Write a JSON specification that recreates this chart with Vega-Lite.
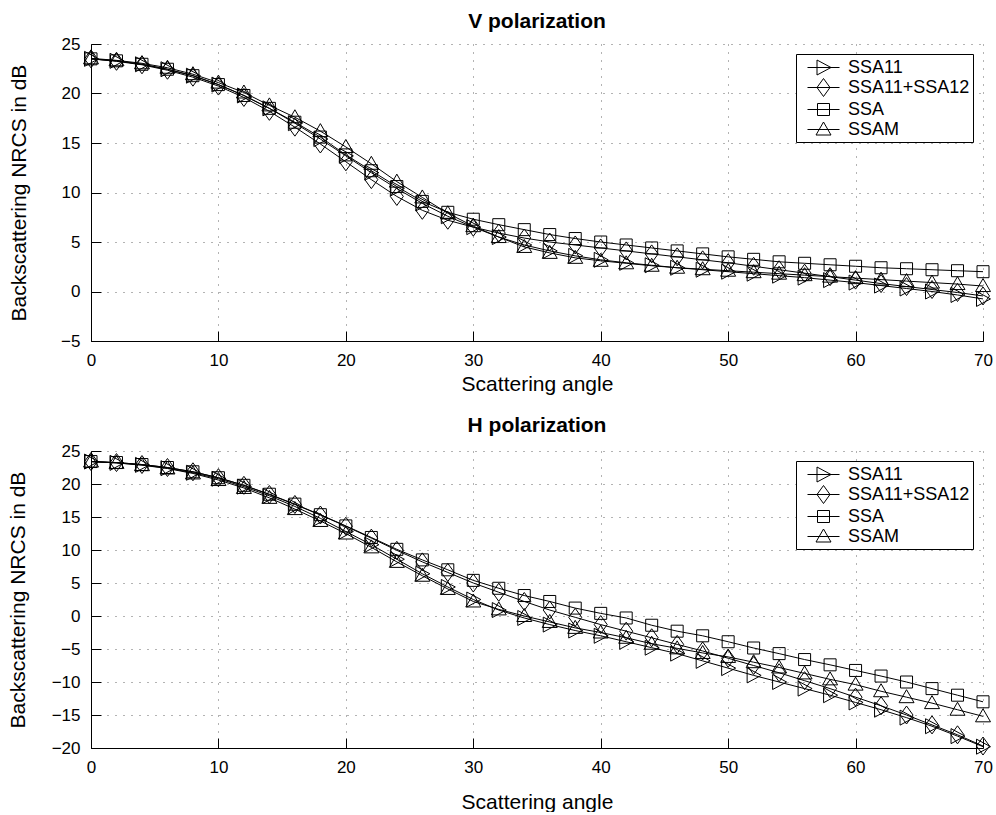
{
 "$schema": "https://vega.github.io/schema/vega-lite/v6.json",
 "autosize": {"type": "pad"},
 "padding": {"left": 7, "top": 11, "right": 3, "bottom": 0},
 "background": "white",
 "config": {
  "font": "Liberation Sans",
  "view": {"stroke": null},
  "axis": {"domainColor": "black", "domainWidth": 1, "tickColor": "black", "tickSize": -10, "labelColor": "black", "labelFontSize": 17, "titleFontSize": 21, "titleFontWeight": "normal", "titleColor": "black", "grid": true, "gridColor": "black", "gridDash": [1, 7], "gridOpacity": 0.6, "labelFont": "Liberation Sans", "titleFont": "Liberation Sans", "labelFlush": false},
  "axisX": {"labelPadding": 21, "titlePadding": 5},
  "axisY": {"labelPadding": 21},
  "legend": {"strokeColor": "black", "fillColor": "white", "padding": 3, "cornerRadius": 0, "labelFontSize": 18, "labelColor": "black", "labelFont": "Liberation Sans", "symbolStrokeColor": "black", "symbolStrokeWidth": 1, "symbolOpacity": 1, "symbolFillColor": "transparent", "symbolSize": 400, "rowPadding": -1, "labelOffset": 14, "symbolOffset": 14, "offset": 10},
  "title": {"fontSize": 21, "fontWeight": "bold", "color": "black", "offset": 3, "anchor": "middle", "font": "Liberation Sans"}
 },
 "datasets": {
  "V": [
   {"a":0,"m":"SSA11","v":23.5},{"a":0,"m":"SSA11+SSA12","v":23.5},{"a":0,"m":"SSA","v":23.5},{"a":0,"m":"SSAM","v":23.55},
   {"a":2,"m":"SSA11","v":23.3},{"a":2,"m":"SSA11+SSA12","v":23.25},{"a":2,"m":"SSA","v":23.3},{"a":2,"m":"SSAM","v":23.35},
   {"a":4,"m":"SSA11","v":22.95},{"a":4,"m":"SSA11+SSA12","v":22.9},{"a":4,"m":"SSA","v":22.95},{"a":4,"m":"SSAM","v":23.05},
   {"a":6,"m":"SSA11","v":22.45},{"a":6,"m":"SSA11+SSA12","v":22.35},{"a":6,"m":"SSA","v":22.45},{"a":6,"m":"SSAM","v":22.6},
   {"a":8,"m":"SSA11","v":21.8},{"a":8,"m":"SSA11+SSA12","v":21.65},{"a":8,"m":"SSA","v":21.8},{"a":8,"m":"SSAM","v":21.95},
   {"a":10,"m":"SSA11","v":20.9},{"a":10,"m":"SSA11+SSA12","v":20.75},{"a":10,"m":"SSA","v":20.9},{"a":10,"m":"SSAM","v":21.1},
   {"a":12,"m":"SSA11","v":19.8},{"a":12,"m":"SSA11+SSA12","v":19.6},{"a":12,"m":"SSA","v":19.8},{"a":12,"m":"SSAM","v":20.1},
   {"a":14,"m":"SSA11","v":18.5},{"a":14,"m":"SSA11+SSA12","v":18.2},{"a":14,"m":"SSA","v":18.5},{"a":14,"m":"SSAM","v":18.8},
   {"a":16,"m":"SSA11","v":17.0},{"a":16,"m":"SSA11+SSA12","v":16.6},{"a":16,"m":"SSA","v":17.1},{"a":16,"m":"SSAM","v":17.6},
   {"a":18,"m":"SSA11","v":15.4},{"a":18,"m":"SSA11+SSA12","v":14.9},{"a":18,"m":"SSA","v":15.6},{"a":18,"m":"SSAM","v":16.2},
   {"a":20,"m":"SSA11","v":13.7},{"a":20,"m":"SSA11+SSA12","v":13.1},{"a":20,"m":"SSA","v":13.8},{"a":20,"m":"SSAM","v":14.6},
   {"a":22,"m":"SSA11","v":12.0},{"a":22,"m":"SSA11+SSA12","v":11.3},{"a":22,"m":"SSA","v":12.2},{"a":22,"m":"SSAM","v":12.9},
   {"a":24,"m":"SSA11","v":10.4},{"a":24,"m":"SSA11+SSA12","v":9.6},{"a":24,"m":"SSA","v":10.6},{"a":24,"m":"SSAM","v":11.1},
   {"a":26,"m":"SSA11","v":8.9},{"a":26,"m":"SSA11+SSA12","v":8.2},{"a":26,"m":"SSA","v":9.1},{"a":26,"m":"SSAM","v":9.5},
   {"a":28,"m":"SSA11","v":7.6},{"a":28,"m":"SSA11+SSA12","v":7.2},{"a":28,"m":"SSA","v":8.0},{"a":28,"m":"SSAM","v":7.9},
   {"a":30,"m":"SSA11","v":6.5},{"a":30,"m":"SSA11+SSA12","v":6.5},{"a":30,"m":"SSA","v":7.3},{"a":30,"m":"SSAM","v":6.6},
   {"a":32,"m":"SSA11","v":5.5},{"a":32,"m":"SSA11+SSA12","v":5.9},{"a":32,"m":"SSA","v":6.75},{"a":32,"m":"SSAM","v":5.5},
   {"a":34,"m":"SSA11","v":4.7},{"a":34,"m":"SSA11+SSA12","v":5.4},{"a":34,"m":"SSA","v":6.25},{"a":34,"m":"SSAM","v":4.5},
   {"a":36,"m":"SSA11","v":4.1},{"a":36,"m":"SSA11+SSA12","v":5.0},{"a":36,"m":"SSA","v":5.75},{"a":36,"m":"SSAM","v":3.9},
   {"a":38,"m":"SSA11","v":3.6},{"a":38,"m":"SSA11+SSA12","v":4.7},{"a":38,"m":"SSA","v":5.35},{"a":38,"m":"SSAM","v":3.4},
   {"a":40,"m":"SSA11","v":3.2},{"a":40,"m":"SSA11+SSA12","v":4.4},{"a":40,"m":"SSA","v":5.0},{"a":40,"m":"SSAM","v":3.1},
   {"a":42,"m":"SSA11","v":2.9},{"a":42,"m":"SSA11+SSA12","v":4.1},{"a":42,"m":"SSA","v":4.7},{"a":42,"m":"SSAM","v":2.85},
   {"a":44,"m":"SSA11","v":2.65},{"a":44,"m":"SSA11+SSA12","v":3.8},{"a":44,"m":"SSA","v":4.4},{"a":44,"m":"SSAM","v":2.6},
   {"a":46,"m":"SSA11","v":2.4},{"a":46,"m":"SSA11+SSA12","v":3.5},{"a":46,"m":"SSA","v":4.1},{"a":46,"m":"SSAM","v":2.4},
   {"a":48,"m":"SSA11","v":2.2},{"a":48,"m":"SSA11+SSA12","v":3.2},{"a":48,"m":"SSA","v":3.8},{"a":48,"m":"SSAM","v":2.25},
   {"a":50,"m":"SSA11","v":2.0},{"a":50,"m":"SSA11+SSA12","v":2.9},{"a":50,"m":"SSA","v":3.5},{"a":50,"m":"SSAM","v":2.1},
   {"a":52,"m":"SSA11","v":1.8},{"a":52,"m":"SSA11+SSA12","v":2.55},{"a":52,"m":"SSA","v":3.25},{"a":52,"m":"SSAM","v":1.95},
   {"a":54,"m":"SSA11","v":1.6},{"a":54,"m":"SSA11+SSA12","v":2.2},{"a":54,"m":"SSA","v":3.0},{"a":54,"m":"SSAM","v":1.8},
   {"a":56,"m":"SSA11","v":1.4},{"a":56,"m":"SSA11+SSA12","v":1.85},{"a":56,"m":"SSA","v":2.85},{"a":56,"m":"SSAM","v":1.65},
   {"a":58,"m":"SSA11","v":1.15},{"a":58,"m":"SSA11+SSA12","v":1.5},{"a":58,"m":"SSA","v":2.7},{"a":58,"m":"SSAM","v":1.5},
   {"a":60,"m":"SSA11","v":0.9},{"a":60,"m":"SSA11+SSA12","v":1.15},{"a":60,"m":"SSA","v":2.55},{"a":60,"m":"SSAM","v":1.35},
   {"a":62,"m":"SSA11","v":0.6},{"a":62,"m":"SSA11+SSA12","v":0.8},{"a":62,"m":"SSA","v":2.4},{"a":62,"m":"SSAM","v":1.2},
   {"a":64,"m":"SSA11","v":0.3},{"a":64,"m":"SSA11+SSA12","v":0.5},{"a":64,"m":"SSA","v":2.3},{"a":64,"m":"SSAM","v":1.05},
   {"a":66,"m":"SSA11","v":0.0},{"a":66,"m":"SSA11+SSA12","v":0.2},{"a":66,"m":"SSA","v":2.2},{"a":66,"m":"SSAM","v":0.9},
   {"a":68,"m":"SSA11","v":-0.35},{"a":68,"m":"SSA11+SSA12","v":-0.1},{"a":68,"m":"SSA","v":2.1},{"a":68,"m":"SSAM","v":0.75},
   {"a":70,"m":"SSA11","v":-0.75},{"a":70,"m":"SSA11+SSA12","v":-0.45},{"a":70,"m":"SSA","v":2.0},{"a":70,"m":"SSAM","v":0.55}
  ],
  "H": [
   {"a":0,"m":"SSA11","v":23.4},{"a":0,"m":"SSA11+SSA12","v":23.4},{"a":0,"m":"SSA","v":23.4},{"a":0,"m":"SSAM","v":23.4},
   {"a":2,"m":"SSA11","v":23.2},{"a":2,"m":"SSA11+SSA12","v":23.25},{"a":2,"m":"SSA","v":23.25},{"a":2,"m":"SSAM","v":23.2},
   {"a":4,"m":"SSA11","v":22.9},{"a":4,"m":"SSA11+SSA12","v":22.95},{"a":4,"m":"SSA","v":22.95},{"a":4,"m":"SSAM","v":22.85},
   {"a":6,"m":"SSA11","v":22.4},{"a":6,"m":"SSA11+SSA12","v":22.5},{"a":6,"m":"SSA","v":22.5},{"a":6,"m":"SSAM","v":22.35},
   {"a":8,"m":"SSA11","v":21.7},{"a":8,"m":"SSA11+SSA12","v":21.85},{"a":8,"m":"SSA","v":21.85},{"a":8,"m":"SSAM","v":21.6},
   {"a":10,"m":"SSA11","v":20.8},{"a":10,"m":"SSA11+SSA12","v":20.95},{"a":10,"m":"SSA","v":20.95},{"a":10,"m":"SSAM","v":20.6},
   {"a":12,"m":"SSA11","v":19.6},{"a":12,"m":"SSA11+SSA12","v":19.8},{"a":12,"m":"SSA","v":19.8},{"a":12,"m":"SSAM","v":19.4},
   {"a":14,"m":"SSA11","v":18.2},{"a":14,"m":"SSA11+SSA12","v":18.4},{"a":14,"m":"SSA","v":18.45},{"a":14,"m":"SSAM","v":17.9},
   {"a":16,"m":"SSA11","v":16.6},{"a":16,"m":"SSA11+SSA12","v":16.9},{"a":16,"m":"SSA","v":16.95},{"a":16,"m":"SSAM","v":16.2},
   {"a":18,"m":"SSA11","v":14.8},{"a":18,"m":"SSA11+SSA12","v":15.3},{"a":18,"m":"SSA","v":15.35},{"a":18,"m":"SSAM","v":14.4},
   {"a":20,"m":"SSA11","v":12.8},{"a":20,"m":"SSA11+SSA12","v":13.6},{"a":20,"m":"SSA","v":13.65},{"a":20,"m":"SSAM","v":12.5},
   {"a":22,"m":"SSA11","v":10.8},{"a":22,"m":"SSA11+SSA12","v":11.8},{"a":22,"m":"SSA","v":11.9},{"a":22,"m":"SSAM","v":10.4},
   {"a":24,"m":"SSA11","v":8.6},{"a":24,"m":"SSA11+SSA12","v":9.95},{"a":24,"m":"SSA","v":10.1},{"a":24,"m":"SSAM","v":8.2},
   {"a":26,"m":"SSA11","v":6.4},{"a":26,"m":"SSA11+SSA12","v":8.2},{"a":26,"m":"SSA","v":8.5},{"a":26,"m":"SSAM","v":6.1},
   {"a":28,"m":"SSA11","v":4.4},{"a":28,"m":"SSA11+SSA12","v":6.6},{"a":28,"m":"SSA","v":7.0},{"a":28,"m":"SSAM","v":4.1},
   {"a":30,"m":"SSA11","v":2.5},{"a":30,"m":"SSA11+SSA12","v":5.0},{"a":30,"m":"SSA","v":5.4},{"a":30,"m":"SSAM","v":2.2},
   {"a":32,"m":"SSA11","v":0.9},{"a":32,"m":"SSA11+SSA12","v":3.6},{"a":32,"m":"SSA","v":4.2},{"a":32,"m":"SSAM","v":1.0},
   {"a":34,"m":"SSA11","v":-0.3},{"a":34,"m":"SSA11+SSA12","v":2.2},{"a":34,"m":"SSA","v":3.1},{"a":34,"m":"SSAM","v":0.0},
   {"a":36,"m":"SSA11","v":-1.3},{"a":36,"m":"SSA11+SSA12","v":0.9},{"a":36,"m":"SSA","v":2.2},{"a":36,"m":"SSAM","v":-0.9},
   {"a":38,"m":"SSA11","v":-2.2},{"a":38,"m":"SSA11+SSA12","v":-0.2},{"a":38,"m":"SSA","v":1.2},{"a":38,"m":"SSAM","v":-1.8},
   {"a":40,"m":"SSA11","v":-3.0},{"a":40,"m":"SSA11+SSA12","v":-1.3},{"a":40,"m":"SSA","v":0.4},{"a":40,"m":"SSAM","v":-2.5},
   {"a":42,"m":"SSA11","v":-3.9},{"a":42,"m":"SSA11+SSA12","v":-2.3},{"a":42,"m":"SSA","v":-0.3},{"a":42,"m":"SSAM","v":-3.3},
   {"a":44,"m":"SSA11","v":-4.8},{"a":44,"m":"SSA11+SSA12","v":-3.3},{"a":44,"m":"SSA","v":-1.4},{"a":44,"m":"SSAM","v":-4.2},
   {"a":46,"m":"SSA11","v":-5.7},{"a":46,"m":"SSA11+SSA12","v":-4.3},{"a":46,"m":"SSA","v":-2.3},{"a":46,"m":"SSAM","v":-4.9},
   {"a":48,"m":"SSA11","v":-6.8},{"a":48,"m":"SSA11+SSA12","v":-5.3},{"a":48,"m":"SSA","v":-3.0},{"a":48,"m":"SSAM","v":-5.6},
   {"a":50,"m":"SSA11","v":-7.9},{"a":50,"m":"SSA11+SSA12","v":-6.4},{"a":50,"m":"SSA","v":-3.9},{"a":50,"m":"SSAM","v":-6.2},
   {"a":52,"m":"SSA11","v":-9.0},{"a":52,"m":"SSA11+SSA12","v":-7.5},{"a":52,"m":"SSA","v":-4.85},{"a":52,"m":"SSAM","v":-7.0},
   {"a":54,"m":"SSA11","v":-10.0},{"a":54,"m":"SSA11+SSA12","v":-8.6},{"a":54,"m":"SSA","v":-5.7},{"a":54,"m":"SSAM","v":-7.8},
   {"a":56,"m":"SSA11","v":-11.0},{"a":56,"m":"SSA11+SSA12","v":-9.8},{"a":56,"m":"SSA","v":-6.6},{"a":56,"m":"SSAM","v":-8.7},
   {"a":58,"m":"SSA11","v":-12.0},{"a":58,"m":"SSA11+SSA12","v":-11.0},{"a":58,"m":"SSA","v":-7.4},{"a":58,"m":"SSAM","v":-9.6},
   {"a":60,"m":"SSA11","v":-13.1},{"a":60,"m":"SSA11+SSA12","v":-12.3},{"a":60,"m":"SSA","v":-8.25},{"a":60,"m":"SSAM","v":-10.4},
   {"a":62,"m":"SSA11","v":-14.2},{"a":62,"m":"SSA11+SSA12","v":-13.6},{"a":62,"m":"SSA","v":-9.1},{"a":62,"m":"SSAM","v":-11.4},
   {"a":64,"m":"SSA11","v":-15.4},{"a":64,"m":"SSA11+SSA12","v":-15.0},{"a":64,"m":"SSA","v":-10.0},{"a":64,"m":"SSAM","v":-12.3},
   {"a":66,"m":"SSA11","v":-16.7},{"a":66,"m":"SSA11+SSA12","v":-16.5},{"a":66,"m":"SSA","v":-11.0},{"a":66,"m":"SSAM","v":-13.2},
   {"a":68,"m":"SSA11","v":-18.2},{"a":68,"m":"SSA11+SSA12","v":-18.0},{"a":68,"m":"SSA","v":-12.0},{"a":68,"m":"SSAM","v":-14.2},
   {"a":70,"m":"SSA11","v":-19.8},{"a":70,"m":"SSA11+SSA12","v":-19.7},{"a":70,"m":"SSA","v":-13.0},{"a":70,"m":"SSAM","v":-15.2}
  ]
 },
 "spacing": 110,
 "bounds": "flush",
 "vconcat": [
  {
   "title": {"text": "V polarization"},
   "width": 892, "height": 297,
   "data": {"name": "V"},
   "encoding": {
    "x": {"field": "a", "type": "quantitative", "scale": {"domain": [0, 70], "nice": false}, "axis": {"values": [0, 10, 20, 30, 40, 50, 60, 70], "title": "Scattering angle"}},
    "y": {"field": "v", "type": "quantitative", "scale": {"domain": [-5, 25], "nice": false}, "axis": {"values": [-5, 0, 5, 10, 15, 20, 25], "title": "Backscattering NRCS in dB", "titlePadding": 31}}
   },
   "layer": [
    {"mark": {"type": "line", "color": "black", "strokeWidth": 1}, "encoding": {"detail": {"field": "m"}}},
    {"mark": {"type": "point", "filled": false, "color": "black", "strokeWidth": 1, "size": 400, "opacity": 1},
     "encoding": {"shape": {"field": "m", "type": "nominal", "scale": {"domain": ["SSA11", "SSA11+SSA12", "SSA", "SSAM"], "range": ["M-0.65,-0.75L0.75,0L-0.65,0.75Z", "M0,-0.9L0.65,0L0,0.9L-0.65,0Z", "M-0.6,-0.6L0.6,-0.6L0.6,0.6L-0.6,0.6Z", "M0,-0.75L0.75,0.55L-0.75,0.55Z"]}, "legend": null}}},
    {"mark": {"type": "point", "filled": false, "color": "black", "strokeWidth": 1, "size": 400, "opacity": 0},
     "encoding": {"shape": {"field": "m", "type": "nominal", "scale": {"domain": ["SSA11", "SSA11+SSA12", "SSA", "SSAM"], "range": ["M-1.6,0L1.6,0M-0.65,-0.75L0.75,0L-0.65,0.75Z", "M-1.6,0L1.6,0M0,-0.9L0.65,0L0,0.9L-0.65,0Z", "M-1.6,0L1.6,0M-0.6,-0.6L0.6,-0.6L0.6,0.6L-0.6,0.6Z", "M-1.6,0L1.6,0M0,-0.75L0.75,0.55L-0.75,0.55Z"]}, "legend": {"title": null, "orient": "top-right"}}}}
   ],
   "resolve": {"scale": {"shape": "independent"}}
  },
  {
   "title": {"text": "H polarization", "offset": 6},
   "width": 892, "height": 297,
   "data": {"name": "H"},
   "encoding": {
    "x": {"field": "a", "type": "quantitative", "scale": {"domain": [0, 70], "nice": false}, "axis": {"values": [0, 10, 20, 30, 40, 50, 60, 70], "title": "Scattering angle", "labelPadding": 21, "titlePadding": 16}},
    "y": {"field": "v", "type": "quantitative", "scale": {"domain": [-20, 25], "nice": false}, "axis": {"values": [-20, -15, -10, -5, 0, 5, 10, 15, 20, 25], "title": "Backscattering NRCS in dB", "titlePadding": 23}}
   },
   "layer": [
    {"mark": {"type": "line", "color": "black", "strokeWidth": 1}, "encoding": {"detail": {"field": "m"}}},
    {"mark": {"type": "point", "filled": false, "color": "black", "strokeWidth": 1, "size": 400, "opacity": 1},
     "encoding": {"shape": {"field": "m", "type": "nominal", "scale": {"domain": ["SSA11", "SSA11+SSA12", "SSA", "SSAM"], "range": ["M-0.65,-0.75L0.75,0L-0.65,0.75Z", "M0,-0.9L0.65,0L0,0.9L-0.65,0Z", "M-0.6,-0.6L0.6,-0.6L0.6,0.6L-0.6,0.6Z", "M0,-0.75L0.75,0.55L-0.75,0.55Z"]}, "legend": null}}},
    {"mark": {"type": "point", "filled": false, "color": "black", "strokeWidth": 1, "size": 400, "opacity": 0},
     "encoding": {"shape": {"field": "m", "type": "nominal", "scale": {"domain": ["SSA11", "SSA11+SSA12", "SSA", "SSAM"], "range": ["M-1.6,0L1.6,0M-0.65,-0.75L0.75,0L-0.65,0.75Z", "M-1.6,0L1.6,0M0,-0.9L0.65,0L0,0.9L-0.65,0Z", "M-1.6,0L1.6,0M-0.6,-0.6L0.6,-0.6L0.6,0.6L-0.6,0.6Z", "M-1.6,0L1.6,0M0,-0.75L0.75,0.55L-0.75,0.55Z"]}, "legend": {"title": null, "orient": "top-right"}}}}
   ],
   "resolve": {"scale": {"shape": "independent"}}
  }
 ]
}
